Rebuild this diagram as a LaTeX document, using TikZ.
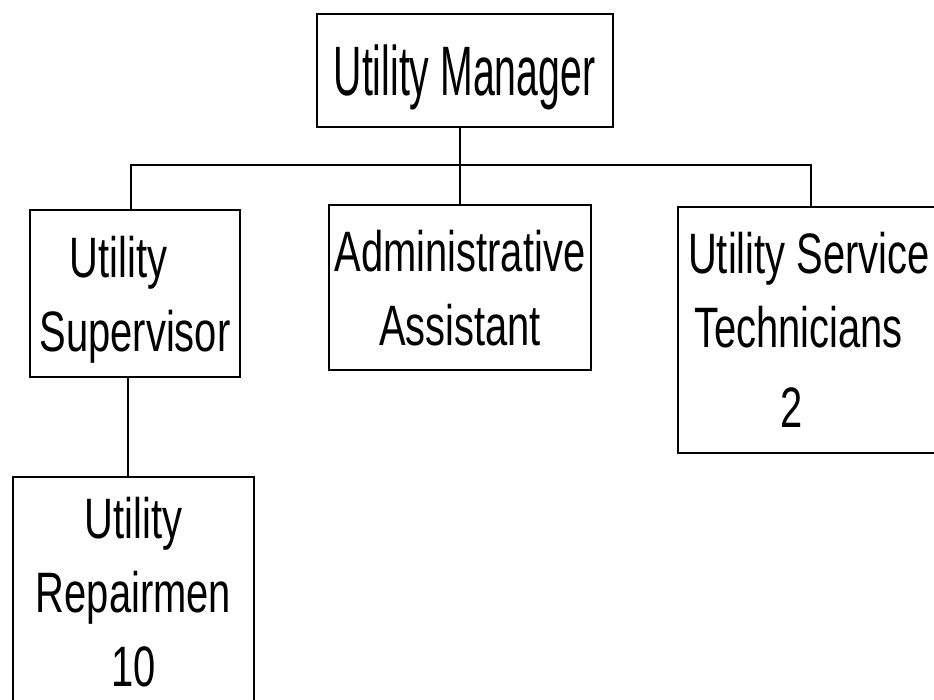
\documentclass[tikz,border=0pt]{standalone}
\usepackage{fontspec}
\setmainfont{Liberation Sans}
\newfontfamily\boxfont[FakeStretch=0.70]{Liberation Sans}
\newfontfamily\topfont[FakeStretch=0.56]{Liberation Sans}
\usepackage{tikz}

\tikzset{
  post/.style={draw,line width=2pt,inner sep=0pt,align=center,text depth=0pt,
    font=\boxfont\fontsize{57}{74}\selectfont},
  link/.style={line width=2pt}
}

\begin{document}
\begin{tikzpicture}[x=1pt,y=1pt]
        \useasboundingbox (0,0) rectangle (934,-700);
        % boxes
        \node[post,minimum width=296pt,minimum height=113pt,
              font=\topfont\fontsize{70}{84}\selectfont](mgr) at (464.5,-70.5) {Utility Manager};
        \node[post,align=left,minimum width=210pt,minimum height=166pt](sup) at (135,-293.5)
              {\hspace*{30pt}Utility\\Supervisor};
        \node[post,minimum width=262pt,minimum height=165pt](adm) at (460,-287.5) {Administrative\\Assistant};
        \node[post,align=left,minimum width=262pt,minimum height=246pt](tec) at (809,-330)
              {Utility Service\\\hspace*{6pt}Technicians\\[6pt]\hspace*{92pt}2};
        \node[post,minimum width=241pt,minimum height=230pt](rep) at (133.5,-592) {Utility\\Repairmen\\10};
        % lines
        \coordinate (busL) at (131,-165);
        \coordinate (busR) at (811,-165);
        \coordinate (drop) at ([xshift=-6pt]rep.north);
        \draw[link] (busL |- sup.north) -- (busL) -- (busR) -- (busR |- tec.north);
        \draw[link] (mgr.south -| adm.north) -- (adm.north);
        \draw[link] (drop |- sup.south) -- (drop);
\end{tikzpicture}
\end{document}
